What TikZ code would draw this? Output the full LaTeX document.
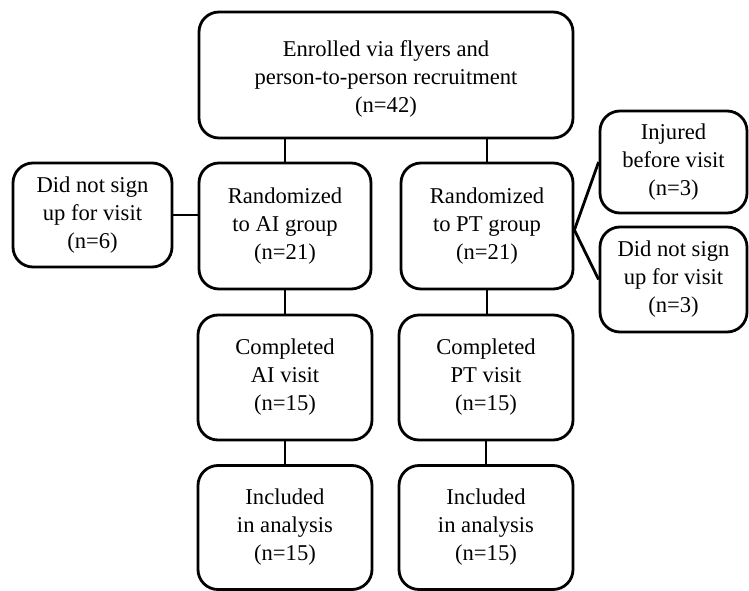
\documentclass[tikz,border=0pt]{standalone}
\usepackage{fontspec}
\setmainfont{Liberation Serif}
\begin{document}
\begin{tikzpicture}[x=1pt,y=-1pt,
  box/.style={draw=black, line width=2.8pt, rounded corners=20pt, align=center,
    inner sep=0pt, font=\fontsize{22.6}{28}\selectfont},
  link/.style={draw=black, line width=2.8pt}]
\useasboundingbox (0,0) rectangle (749,591);
\node[box, minimum width=374pt, minimum height=126pt] (top) at (386,75)
  {\rule{0pt}{24pt}Enrolled via flyers and\\person-to-person recruitment\\(n=42)};
\node[box, minimum width=159pt, minimum height=104pt] (dnsl) at (92.5,215)
  {Did not sign\\up for visit\\(n=6)};
\node[box, minimum width=172pt, minimum height=126pt] (air) at (285,226)
  {Randomized\\to AI group\\(n=21)};
\node[box, minimum width=172pt, minimum height=126pt] (ptr) at (487,226)
  {Randomized\\to PT group\\(n=21)};
\node[box, minimum width=147pt, minimum height=102pt] (inj) at (673.5,162)
  {Injured\\before visit\\(n=3)};
\node[box, minimum width=147pt, minimum height=105pt] (dnsr) at (673.5,279.5)
  {Did not sign\\up for visit\\(n=3)};
\node[box, minimum width=174pt, minimum height=125pt] (aic) at (285,377.5)
  {Completed\\AI visit\\(n=15)};
\node[box, minimum width=174pt, minimum height=125pt] (ptc) at (486,377.5)
  {Completed\\PT visit\\(n=15)};
\node[box, minimum width=174pt, minimum height=124pt] (aii) at (285,527.5)
  {Included\\in analysis\\(n=15)};
\node[box, minimum width=174pt, minimum height=124pt] (pti) at (486,527.5)
  {Included\\in analysis\\(n=15)};
\draw[link] (top.south -| air.north) -- (air.north);
\draw[link] (top.south -| ptr.north) -- (ptr.north);
\draw[link] (dnsl.east) -- (air.west |- dnsl.east);
\draw[link] ([yshift=-4pt]ptr.east) -- (inj.west);
\draw[link] ([yshift=-4pt]ptr.east) -- (dnsr.west);
\draw[link] (air.south) -- (aic.north -| air.south);
\draw[link] (ptr.south) -- (ptc.north -| ptr.south);
\draw[link] (aic.south) -- (aii.north -| aic.south);
\draw[link] (ptc.south) -- (pti.north -| ptc.south);
\end{tikzpicture}
\end{document}
